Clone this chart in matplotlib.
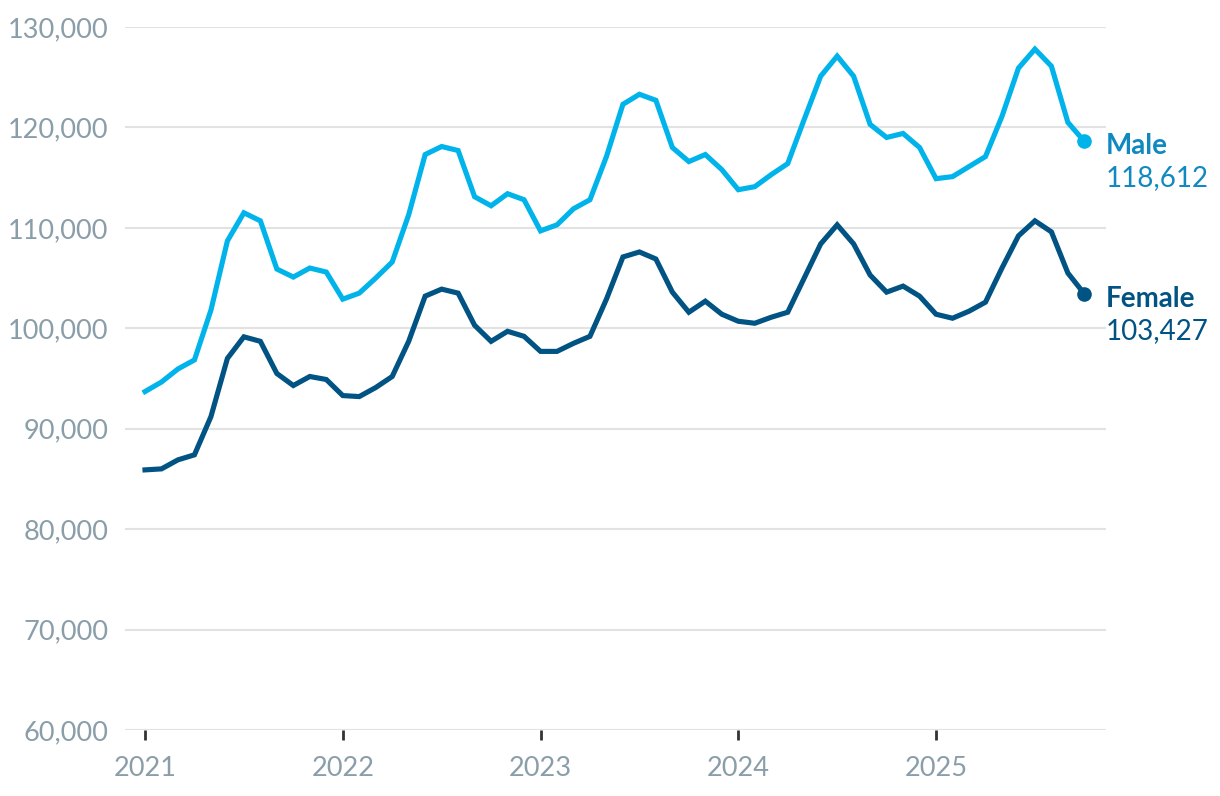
import numpy as np
import matplotlib
matplotlib.use('Agg')
import matplotlib.pyplot as plt

# monthly values, Jan 2021 .. Oct 2025
male = [93700, 94650, 95950, 96850, 101800, 108700, 111500, 110700, 105900, 105100, 106000, 105600,
        102900, 103500, 105000, 106600, 111300, 117300, 118100, 117700, 113100, 112200, 113400, 112800,
        109700, 110300, 111900, 112800, 117100, 122300, 123300, 122700, 118000, 116600, 117300, 115800,
        113800, 114100, 115300, 116400, 120800, 125100, 127100, 125100, 120300, 119000, 119400, 118000,
        114900, 115100, 116100, 117100, 121100, 125900, 127800, 126100, 120500, 118612]
female = [85900, 86000, 86900, 87400, 91200, 97000, 99150, 98700, 95500, 94300, 95200, 94900,
          93300, 93200, 94100, 95200, 98700, 103200, 103900, 103500, 100300, 98700, 99700, 99200,
          97700, 97700, 98500, 99200, 102900, 107100, 107600, 106900, 103600, 101600, 102700, 101400,
          100700, 100500, 101100, 101600, 105000, 108400, 110300, 108400, 105300, 103600, 104200, 103200,
          101400, 101000, 101700, 102600, 106000, 109200, 110700, 109600, 105500, 103427]
years = ['2021', '2022', '2023', '2024', '2025']
yticks = [60000, 70000, 80000, 90000, 100000, 110000, 120000, 130000]

c_male = '#00b4eb'
c_male_txt = '#1089c0'
c_female = '#005383'
c_tick = '#8a9ea9'

plt.rcParams['font.family'] = ['Lato', 'DejaVu Sans']

fig = plt.figure(figsize=(12.2, 7.96), dpi=100)
ax = fig.add_axes([125 / 1220, 66 / 796, (1106 - 125) / 1220, 703 / 796])

x = np.arange(len(male))
ax.plot(x, male, color=c_male, lw=3.7, solid_joinstyle='miter', clip_on=False, zorder=3)
ax.plot(x, female, color=c_female, lw=3.7, solid_joinstyle='miter', clip_on=False, zorder=3)
ax.plot(x[-1], male[-1], 'o', color=c_male, ms=9.5, zorder=4)
ax.plot(x[-1], female[-1], 'o', color=c_female, ms=9.5, zorder=4)

ax.set_xlim(-20 / 16.48, (1106 - 145) / 16.48)
ax.set_ylim(60000, 130000)
ax.set_yticks(yticks)
ax.set_yticklabels([f'{v:,}' for v in yticks])
ax.set_xticks([0, 12, 24, 36, 48])
ax.set_xticklabels(years)
ax.grid(axis='y', color='#e2e2e2', lw=1.5)
ax.set_axisbelow(True)
for s in ax.spines.values():
    s.set_visible(False)
ax.tick_params(axis='y', length=0, pad=12, labelsize=19.5, labelcolor=c_tick)
ax.tick_params(axis='x', length=7, width=2, color='#333333', pad=12, labelsize=19.5, labelcolor=c_tick)

# end labels
xl = x[-1] + 1.3
ax.text(xl, male[-1] - 500, 'Male', color=c_male_txt, fontsize=20, fontweight='bold',
        va='center', ha='left', clip_on=False)
ax.text(xl, male[-1] - 3700, f'{male[-1]:,}', color=c_male_txt, fontsize=20,
        va='center', ha='left', clip_on=False)
ax.text(xl, female[-1] - 500, 'Female', color=c_female, fontsize=20, fontweight='bold',
        va='center', ha='left', clip_on=False)
ax.text(xl, female[-1] - 3700, f'{female[-1]:,}', color=c_female, fontsize=20,
        va='center', ha='left', clip_on=False)

fig.savefig('out.png', dpi=100, facecolor='white')
